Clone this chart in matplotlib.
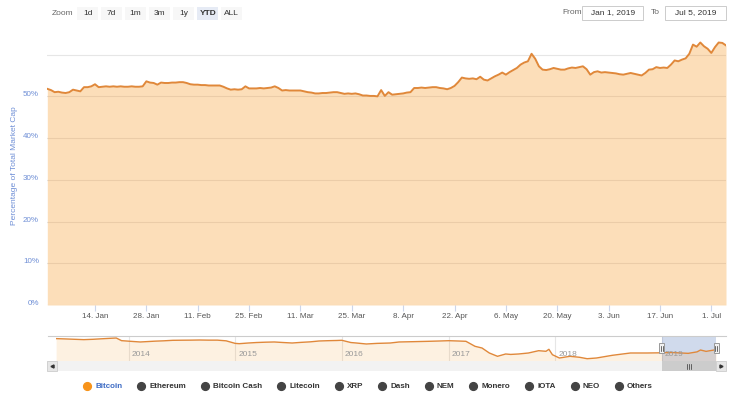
import matplotlib
matplotlib.use("Agg")
import matplotlib.pyplot as plt
import matplotlib.dates as mdates
import matplotlib.transforms as mtransforms
from matplotlib.patches import Rectangle
from matplotlib.lines import Line2D
import pandas as pd

plt.rcParams['font.family'] = ['Liberation Sans', 'DejaVu Sans']

# ---- data ----
# Bitcoin share of total crypto market cap (%), daily, 1 Jan - 5 Jul 2019
btc_dominance = [
    51.8, 51.5, 51.0, 51.1, 50.9, 50.8, 51.0,
    51.6, 51.4, 51.2, 52.2, 52.2, 52.4, 52.9,
    52.2, 52.3, 52.4, 52.3, 52.4, 52.3, 52.4,
    52.3, 52.3, 52.4, 52.3, 52.3, 52.4, 53.6,
    53.3, 53.2, 52.8, 53.3, 53.2, 53.2, 53.3,
    53.3, 53.4, 53.4, 53.2, 52.9, 52.8, 52.8,
    52.7, 52.7, 52.6, 52.6, 52.6, 52.6, 52.3,
    51.9, 51.6, 51.7, 51.6, 51.7, 52.4, 51.9,
    51.9, 51.9, 52.0, 51.9, 52.0, 52.1, 52.4,
    52.0, 51.4, 51.5, 51.4, 51.4, 51.4, 51.4,
    51.2, 51.0, 50.9, 50.7, 50.7, 50.8, 50.8,
    50.9, 51.0, 51.0, 50.8, 50.6, 50.7, 50.6,
    50.7, 50.5, 50.2, 50.2, 50.1, 50.1, 50.0,
    51.5, 50.1, 51.0, 50.4, 50.5, 50.6, 50.7,
    50.9, 51.0, 52.0, 52.0, 52.1, 52.0, 52.1,
    52.2, 52.2, 52.0, 51.9, 51.7, 52.0, 52.5,
    53.4, 54.5, 54.3, 54.2, 54.3, 54.1, 54.7,
    54.0, 53.8, 54.3, 54.8, 55.2, 55.7, 55.2,
    55.8, 56.3, 56.8, 57.6, 58.1, 58.4, 60.2,
    59.0, 57.2, 56.4, 56.3, 56.5, 56.8, 56.6,
    56.4, 56.4, 56.7, 56.9, 56.8, 57.0, 57.2,
    56.5, 55.2, 55.8, 56.0, 55.7, 55.8, 55.7,
    55.6, 55.5, 55.3, 55.2, 55.4, 55.6, 55.4,
    55.2, 55.0, 55.6, 56.4, 56.5, 57.0, 56.8,
    56.9, 56.8, 57.6, 58.6, 58.4, 58.8, 59.1,
    60.2, 62.4, 61.9, 62.9, 62.0, 61.4, 60.4,
    61.8, 62.9, 62.8, 62.2,
]
dates = pd.date_range('2019-01-01', periods=len(btc_dominance), freq='D')

x_tick_dates = ['2019-01-14', '2019-01-28', '2019-02-11', '2019-02-25', '2019-03-11',
                '2019-03-25', '2019-04-08', '2019-04-22', '2019-05-06', '2019-05-20',
                '2019-06-03', '2019-06-17', '2019-07-01']
y_ticks = [0, 10, 20, 30, 40, 50, 60]
y_tick_labels = ['0%', '10%', '20%', '30%', '40%', '50%', '']

# navigator: full history
nav_dates = ['2013-04-28', '2013-06-01', '2013-07-01', '2013-08-01', '2013-09-01', '2013-10-01',
             '2013-11-01', '2013-11-20', '2013-12-08', '2014-01-01', '2014-02-10', '2014-03-01',
             '2014-04-01', '2014-05-01', '2014-06-01', '2014-07-01', '2014-08-01', '2014-09-01',
             '2014-10-01', '2014-11-01', '2014-12-01', '2015-01-01', '2015-01-15', '2015-02-15',
             '2015-03-15', '2015-04-15', '2015-05-15', '2015-06-15', '2015-07-15', '2015-08-15',
             '2015-09-15', '2015-10-15', '2015-11-15', '2015-12-15', '2016-01-01', '2016-02-01',
             '2016-02-20', '2016-03-25', '2016-05-01', '2016-06-15', '2016-07-15', '2016-09-01',
             '2016-10-25', '2016-12-01', '2017-01-01', '2017-02-01', '2017-03-01', '2017-04-01',
             '2017-04-25', '2017-05-20', '2017-06-17', '2017-07-15', '2017-08-01', '2017-08-28',
             '2017-10-01', '2017-11-05', '2017-11-30', '2017-12-10', '2017-12-22', '2018-01-15',
             '2018-02-20', '2018-03-25', '2018-04-20', '2018-05-22', '2018-07-15', '2018-09-15',
             '2018-11-10', '2019-01-01', '2019-02-01', '2019-03-01', '2019-04-01', '2019-05-01',
             '2019-05-13', '2019-06-01', '2019-07-01', '2019-07-05']
nav_values = [93.5, 92.5, 91.5, 90.5, 91.5, 93.0,
              94.5, 95.3, 87.5, 86.0, 83.6, 84.5,
              86.0, 87.0, 88.5, 88.8, 89.0, 89.4,
              89.0, 89.0, 87.0, 79.5, 78.6, 80.6,
              82.0, 83.0, 83.6, 82.0, 80.6, 82.5,
              84.0, 86.5, 87.4, 88.0, 88.6, 82.0,
              80.6, 77.7, 79.5, 80.6, 83.6, 84.5,
              85.6, 86.5, 87.4, 86.5, 85.6, 70.9,
              65.9, 51.2, 41.5, 48.3, 47.0, 48.3,
              51.2, 58.0, 56.2, 62.1, 46.2, 36.5,
              41.5, 38.6, 34.4, 36.5, 44.4, 51.2,
              51.2, 51.8, 52.8, 51.5, 50.2, 54.5,
              60.0, 56.0, 60.4, 62.2]
nav_years = ['2014', '2015', '2016', '2017', '2018', '2019']

legend_names = ['Bitcoin', 'Ethereum', 'Bitcoin Cash', 'Litecoin', 'XRP', 'Dash',
                'NEM', 'Monero', 'IOTA', 'NEO', 'Others']
zoom_buttons = ['1d', '7d', '1m', '3m', '1y', 'YTD', 'ALL']
range_from, range_to = 'Jan 1, 2019', 'Jul 5, 2019'

# ---- styling ----
W, H = 736, 395
BTC_LINE = '#e0883a'
BTC_FILL = '#f7931a'
AXIS_BLUE = '#6f8fd6'
GRID = '#e6e6e6'


def fx(x):
    return x / W


def fy(y):
    return 1 - y / H


fig = plt.figure(figsize=(W / 100, H / 100), dpi=100)


def box(x0, y0, x1, y1, **kw):
    fig.add_artist(Rectangle((fx(x0), fy(y1)), (x1 - x0) / W, (y1 - y0) / H,
                             transform=fig.transFigure, **kw))


def hline(x0, x1, y, **kw):
    fig.add_artist(Line2D([fx(x0), fx(x1)], [fy(y), fy(y)], transform=fig.transFigure, **kw))


# main chart
ax = fig.add_axes([fx(47.3), fy(305), (726 - 47.3) / W, (305 - 35) / H])
ax.fill_between(dates, btc_dominance, color=BTC_FILL, alpha=0.3, lw=0, zorder=2)
ax.plot(dates, btc_dominance, color=BTC_LINE, lw=1.4, zorder=3)
ax.set_xlim(dates[0], dates[-1])
ax.set_ylim(0, 64.7)
ax.set_yticks(y_ticks)
ax.set_yticklabels(y_tick_labels, va='baseline')
ax.set_xticks(pd.to_datetime(x_tick_dates))
ax.set_xticklabels([f"{d.day}. {d.strftime('%b')}" for d in pd.to_datetime(x_tick_dates)])
ax.yaxis.grid(True, color=GRID, lw=0.8)
ax.set_axisbelow(True)
for s in ax.spines.values():
    s.set_visible(False)
ax.tick_params(axis='y', length=0, pad=6, labelsize=5.8, labelcolor=AXIS_BLUE)
ax.tick_params(axis='x', length=4, width=0.8, color='#ccd6eb', pad=1.5,
               labelsize=5.8, labelcolor='#555555')
fig.text(fx(15), fy(166), 'Percentage of Total Market Cap', rotation=90,
         ha='center', va='center', fontsize=6, color=AXIS_BLUE)

# navigator
hline(48, 726, 336, color='#cccccc', lw=0.8)
nav = fig.add_axes([fx(56.1), fy(361.3), (716 - 56.1) / W, 25.3 / H])
nd = pd.to_datetime(nav_dates)
nav.fill_between(nd, nav_values, color=BTC_FILL, alpha=0.13, lw=0, zorder=2)
nav.plot(nd, nav_values, color=BTC_LINE, lw=1.0, zorder=3)
nav.set_xlim(pd.Timestamp('2013-04-28'), pd.Timestamp('2019-07-05'))
nav.set_ylim(26.8, 101.2)
year_starts = pd.to_datetime([f'{y}-01-01' for y in nav_years])
nav.set_xticks(year_starts)
nav.set_xticklabels([])
nav.set_yticks([])
nav.xaxis.grid(True, color=GRID, lw=0.8)
nav.set_axisbelow(True)
nav.tick_params(length=0)
for s in nav.spines.values():
    s.set_visible(False)
lbl_off = mtransforms.ScaledTranslation(3 / 100, 0, fig.dpi_scale_trans)
for d, y in zip(year_starts, nav_years):
    nav.text(d, 0.25, y, transform=nav.get_xaxis_transform() + lbl_off,
             ha='left', va='center', fontsize=6, color='#999999', zorder=4)
nav.axvspan(pd.Timestamp('2019-01-01'), pd.Timestamp('2019-07-05'),
            color=(102 / 255, 133 / 255, 194 / 255), alpha=0.3, lw=0, zorder=1)

# navigator handles
for hx in (661.7, 716.0):
    box(hx - 2.5, 343, hx + 2.5, 353, fc='#f2f2f2', ec='#999999', lw=0.7, zorder=5)
    for dx in (-0.8, 0.8):
        fig.add_artist(Line2D([fx(hx + dx)] * 2, [fy(345.5), fy(350.5)],
                              transform=fig.transFigure, color='#333333', lw=0.5, zorder=6))

# scrollbar
box(47, 361.3, 726, 371, fc='#f2f2f2', ec='none', zorder=1)
box(661.7, 361.3, 716, 371, fc='#cccccc', ec='none', zorder=2)
for bx0, mk in ((47, '<'), (716, '>')):
    box(bx0, 361.3, bx0 + 10, 371, fc='#e6e6e6', ec='#cccccc', lw=0.6, zorder=3)
    fig.add_artist(Line2D([fx(bx0 + 5)], [fy(366.2)], transform=fig.transFigure,
                          marker=mk, ms=2.2, color='#333333', lw=0, zorder=4))
for dx in (-2, 0, 2):
    fig.add_artist(Line2D([fx(689 + dx)] * 2, [fy(364), fy(368.5)],
                          transform=fig.transFigure, color='#333333', lw=0.5, zorder=4))

# zoom buttons
fig.text(fx(63), fy(13.5), 'Zoom', ha='center', va='center', fontsize=6, color='#666666')
for i, lab in enumerate(zoom_buttons):
    cx = 87.7 + 24 * i
    sel = lab == 'YTD'
    box(cx - 10.3, 7.3, cx + 10.3, 20, fc='#e6ebf5' if sel else '#f7f7f7', ec='none')
    fig.text(fx(cx), fy(13.5), lab, ha='center', va='center', fontsize=6,
             color='#333333', fontweight='bold' if sel else 'normal')

# date range inputs
fig.text(fx(571.7), fy(13), 'From', ha='center', va='center', fontsize=6, color='#666666')
box(582.3, 5.7, 643.3, 20, fc='white', ec='#cccccc', lw=0.7)
fig.text(fx(612.8), fy(13), range_from, ha='center', va='center', fontsize=6, color='#333333')
fig.text(fx(655.7), fy(13), 'To', ha='center', va='center', fontsize=6, color='#666666')
box(665, 5.7, 726, 20, fc='white', ec='#cccccc', lw=0.7)
fig.text(fx(695.5), fy(13), range_to, ha='center', va='center', fontsize=6, color='#333333')

# legend, laid out by measured text width and centred
renderer = fig.canvas.get_renderer()
items = []
total = 0
for name in legend_names:
    t = fig.text(0, fy(386), name, ha='left', va='center', fontsize=5.8, fontweight='bold',
                 color='#3d6bc4' if name == 'Bitcoin' else '#333333')
    w = t.get_window_extent(renderer).width
    items.append((t, w))
    total += 12 + w
gap = 15
total += gap * (len(items) - 1)
x = (W - total) / 2
for (t, w), name in zip(items, legend_names):
    fig.add_artist(Line2D([fx(x + 4)], [fy(386)], transform=fig.transFigure, marker='o',
                          ms=5.6, lw=0, color=BTC_FILL if name == 'Bitcoin' else '#444444'))
    t.set_x(fx(x + 12))
    x += 12 + w + gap

fig.savefig('out.png', dpi=100)
